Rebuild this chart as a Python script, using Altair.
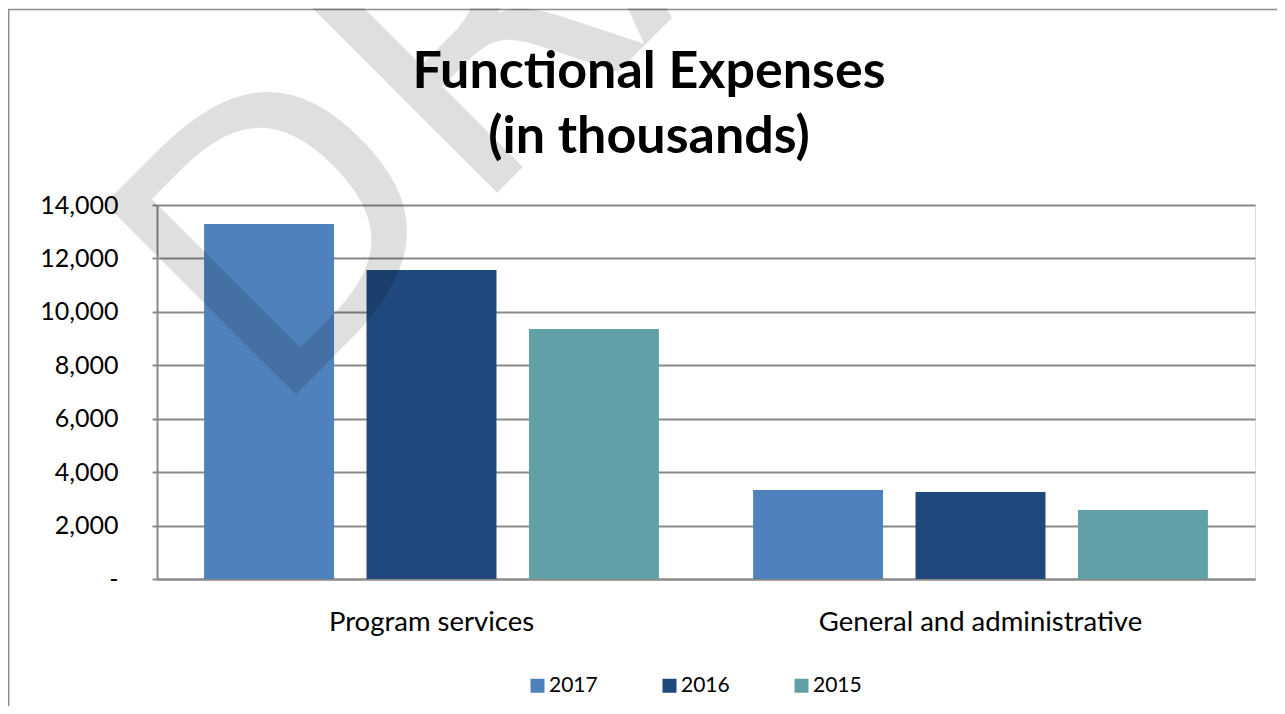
import altair as alt
import pandas as pd

categories = ["Program services", "General and administrative"]
years = ["2017", "2016", "2015"]
values_2017 = [13290, 3330]
values_2016 = [11570, 3260]
values_2015 = [9360, 2580]
colors = ["#4F81BD", "#1F497D", "#62A0A8"]
y_ticks = [0, 2000, 4000, 6000, 8000, 10000, 12000, 14000]
title_lines = ["Functional Expenses", "(in thousands)"]
watermark = "DRAFT"

rows = []
for year, vals in zip(years, [values_2017, values_2016, values_2015]):
    for cat, v in zip(categories, vals):
        rows.append({"category": cat, "year": year, "value": v})
df = pd.DataFrame(rows)

W, H = 1098, 374
GRID = "#898989"

bars = alt.Chart(df).mark_bar().encode(
    x=alt.X(
        "category:N",
        sort=categories,
        scale=alt.Scale(paddingInner=0, paddingOuter=0),
        axis=alt.Axis(
            title=None, labelAngle=0, ticks=False, grid=False,
            domainColor=GRID, domainWidth=2,
            labelFont="Lato", labelFontSize=27.5, labelColor="#000000",
            labelPadding=29, labelLimit=0,
        ),
    ),
    xOffset=alt.XOffset(
        "year:N", sort=years,
        scale=alt.Scale(paddingInner=0.2, paddingOuter=0.29),
    ),
    y=alt.Y(
        "value:Q",
        scale=alt.Scale(domain=[0, 14000]),
        axis=alt.Axis(
            title=None, values=y_ticks,
            labelExpr="datum.value == 0 ? '-' : format(datum.value, ',')",
            labelFont="Lato", labelFontSize=25, labelColor="#000000",
            labelPadding=34, tickSize=5, tickColor=GRID, tickWidth=2,
            domainColor=GRID, domainWidth=2,
            gridColor=GRID, gridWidth=2, labelLimit=0,
        ),
    ),
    color=alt.Color(
        "year:N", sort=years,
        scale=alt.Scale(domain=years, range=colors),
        legend=alt.Legend(
            title=None, orient="none", direction="horizontal",
            legendX=370, legendY=470, padding=0,
            symbolType="square", symbolSize=196, symbolStrokeWidth=0,
            labelFont="Lato", labelFontSize=21, labelColor="#000000",
            labelOffset=1, columnPadding=61, labelLimit=0,
        ),
    ),
)

one = alt.Data(values=[{}])

border = alt.Chart(one).mark_rect(
    fill="#ffffff", fillOpacity=0, stroke="#8c8c8c", strokeWidth=1.5
).encode(
    x=alt.value(-148.3), x2=alt.value(W + 300),
    y=alt.value(-195.5), y2=alt.value(H + 400),
)

wm = alt.Chart(one).mark_text(
    text=watermark, font="DejaVu Sans", fontSize=370, angle=315,
    align="left", baseline="alphabetic", color="#000000", opacity=0.12,
).encode(x=alt.value(113), y=alt.value(215))

t1 = alt.Chart(one).mark_text(
    text=title_lines[0], font="Lato", fontSize=52, fontWeight="bold",
    align="center", baseline="alphabetic", color="#000000",
).encode(x=alt.value(492), y=alt.value(-117))

t2 = alt.Chart(one).mark_text(
    text=title_lines[1], font="Lato", fontSize=52, fontWeight="bold",
    align="center", baseline="alphabetic", color="#000000",
).encode(x=alt.value(492), y=alt.value(-52))

chart = alt.layer(border, bars, wm, t1, t2).properties(
    width=W, height=H,
    autosize=alt.AutoSizeParams(type="none"),
    padding={"left": 149, "top": 197, "right": 22, "bottom": 127},
).configure_view(strokeWidth=0).configure(background="#ffffff")

chart.save("out.html", embed_options={"renderer": "svg", "actions": False})
